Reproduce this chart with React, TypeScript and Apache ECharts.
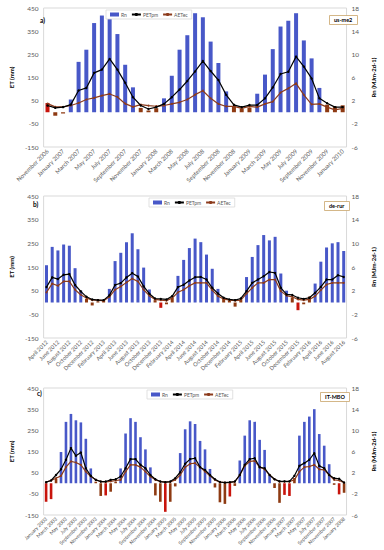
import React, { useEffect, useRef } from "react";
import * as echarts from "echarts";

const MONTH_NAMES = ["January","February","March","April","May","June","July","August","September","October","November","December"];
function monthLabels(startYear: number, startMonth: number, count: number): string[] {
  const out: string[] = [];
  for (let i = 0; i < count; i++) {
    const m = (startMonth + i) % 12;
    const y = startYear + Math.floor((startMonth + i) / 12);
    out.push(MONTH_NAMES[m] + " " + y);
  }
  return out;
}

// Panel a) us-me2 : November 2006 - January 2010
const catsA = monthLabels(2006, 10, 39);
const rnBlueA = [null,null,null,2.2,8.7,10.8,15.4,16.7,16.8,13.5,8.2,4.3,null,null,null,2.4,6.3,10.8,13.3,17.1,16.4,12.2,8.5,3.6,null,null,null,3.2,6.5,10.9,14.8,15.8,17.1,12.4,9.3,4.2,null,null,null];
const rnRedA = [1.6,null,null,null,null,null,null,null,null,null,null,null,null,null,null,null,null,null,null,null,null,null,null,null,null,null,null,null,null,null,null,null,null,null,null,null,null,null,null];
const rnBrownA = [null,-0.6,-0.2,null,null,null,null,null,null,null,null,null,0.75,0.3,0.7,null,null,null,null,null,null,null,null,null,1.0,0.6,0.8,null,null,null,null,null,null,null,null,null,1.3,1.0,1.2];
const petA = [29,19,22,33,94,105,170,184,230,184,127,65,29,14,22,36,65,98,135,176,221,178,139,75,32,22,31,31,60,107,165,175,240,197,146,60,39,22,22];
const aetA = [37,23,23,29,40,55,62,72,79,66,37,23,33,29,26,29,36,43,55,76,93,60,36,25,25,17,25,22,36,46,85,103,125,75,34,36,22,10,17];

// Panel b) de-rur : April 2012 - August 2016
const catsB = monthLabels(2012, 3, 53);
const rnBlueB = [6.3,9.4,8.8,9.8,9.6,5.8,2.0,null,null,null,null,2.3,7.0,8.4,10.2,11.7,9.0,5.9,2.2,null,null,null,null,4.5,7.2,9.2,10.8,10.2,8.1,5.7,2.3,null,null,null,null,4.3,7.7,9.7,11.4,10.5,11.1,4.9,2.0,null,null,null,null,3.2,6.9,9.3,10.0,10.2,8.7];
const rnRedB = [null,null,null,null,null,null,null,null,null,null,null,null,null,null,null,null,null,null,null,null,-0.9,null,null,null,null,null,null,null,null,null,null,null,null,null,null,null,null,null,null,null,null,null,null,null,-1.3,null,null,null,null,null,null,null,null];
const rnBrownB = [null,null,null,null,null,null,null,0.6,-0.5,0.2,0.3,null,null,null,null,null,null,null,null,0.4,null,-0.3,0.8,null,null,null,null,null,null,null,null,0.8,0.3,-0.7,0.5,null,null,null,null,null,null,null,null,0.8,null,-0.3,1.0,null,null,null,null,null,null];
const petB = [65,106,99,117,120,74,47,24,13,10,10,30,74,82,106,124,110,68,37,17,15,13,27,65,75,93,107,108,97,62,38,20,13,10,17,48,83,97,111,129,125,62,34,32,20,15,20,41,66,97,97,115,108];
const aetB = [43,80,71,89,89,54,33,19,10,10,7,24,54,68,85,101,89,54,29,13,10,8,19,43,54,71,83,83,83,52,27,15,10,8,10,38,62,83,83,97,97,48,29,24,13,10,13,27,52,76,83,83,83];

// Panel c) IT-MBO : January 2003 - January 2008
const catsC = monthLabels(2003, 0, 61);
const rnBlueC = [null,null,null,5.9,11.6,13.1,11.9,11.5,8.4,2.8,null,null,null,null,null,2.8,9.4,12.3,11.6,8.7,6.4,3.0,null,null,null,null,null,5.7,10.2,11.7,11.2,8.0,6.4,2.7,null,null,null,null,null,4.3,9.0,11.9,11.6,8.2,6.3,1.5,null,null,null,null,null,9.0,11.6,12.6,14.0,9.3,7.1,3.6,null,null,null];
const rnRedC = [-3.5,-3.0,null,null,null,null,null,null,null,null,null,null,-2.3,null,null,null,null,null,null,null,null,null,null,null,-5.4,null,null,null,null,null,null,null,null,null,null,null,null,-2.5,null,null,null,null,null,null,null,null,null,null,-2.2,-2.4,null,null,null,null,null,null,null,null,null,-2.1,null];
const rnBrownC = [null,null,0.8,null,null,null,null,null,null,null,0.3,-2.4,null,-1.6,0.3,null,null,null,null,null,null,null,-2.3,-3.5,null,-3.5,-0.6,null,null,null,null,null,null,null,-0.8,-3.6,-3.9,null,-0.5,null,null,null,null,null,null,null,-0.9,-3.7,null,null,1.0,null,null,null,null,null,null,null,-0.3,null,-1.8];
const petC = [5,13,39,66,111,166,130,145,71,35,16,8,8,16,19,32,71,114,114,87,71,39,19,8,5,8,24,52,92,114,118,76,63,39,19,6,3,5,8,39,87,114,118,76,71,39,19,9,9,9,35,82,95,111,142,82,71,39,24,21,3];
const aetC = [5,13,24,35,76,103,98,87,55,32,16,8,6,9,13,16,55,87,87,76,55,32,16,8,5,6,16,39,76,92,95,76,55,35,16,5,3,3,8,39,82,103,106,76,66,39,19,8,8,8,16,55,76,79,87,66,63,39,16,13,3];

const panelTags = ["a)", "b)", "c)"];
const siteNames = ["us-me2", "de-rur", "IT-MBO"];
const legendItems = ["Rn", "PETpm", "AETec"];

const FONT = "Lato, 'Open Sans', sans-serif";
const BLUE = "#4858c8";
const RED = "#c8140c";
const BROWN = "#8e3a12";
const AETC = "#8c3b1c";
const GREY = "#595959";

export default function App() {
  const ref = useRef<HTMLDivElement>(null);
  useEffect(() => {
    if (!ref.current) return;
    const chart = echarts.init(ref.current, undefined, { renderer: "svg" });

    const grids = [
      { left: 31, top: 8, width: 329, height: 139 },
      { left: 27, top: 196, width: 332, height: 142 },
      { left: 31, top: 388, width: 324, height: 127 },
    ];
    const cats = [catsA, catsB, catsC];
    const blues = [rnBlueA, rnBlueB, rnBlueC];
    const reds = [rnRedA, rnRedB, rnRedC];
    const browns = [rnBrownA, rnBrownB, rnBrownC];
    const pets = [petA, petB, petC];
    const aets = [aetA, aetB, aetC];
    const barW = [4, 3, 2.6];
    const xFont = [6, 5.6, 5];
    const legendPos = [
      { left: 106, top: 10 },
      { left: 149, top: 198 },
      { left: 147, top: 390 },
    ];
    const tagPos = [
      { x: 40, y: 17 },
      { x: 33, y: 201 },
      { x: 37, y: 390 },
    ];
    const sitePos = [
      { left: 329, top: 15 },
      { left: 324, top: 201 },
      { left: 320, top: 392 },
    ];

    const xAxis: any[] = [];
    const yAxis: any[] = [];
    const series: any[] = [];
    const legend: any[] = [];
    const title: any[] = [];
    const graphic: any[] = [];

    for (let p = 0; p < 3; p++) {
      xAxis.push({
        type: "category",
        gridIndex: p,
        data: cats[p],
        position: "bottom",
        axisLine: { show: false },
        axisTick: { show: false },
        axisLabel: { interval: 1, rotate: 45, fontSize: xFont[p], color: GREY, fontFamily: FONT, margin: 3 },
      });
      yAxis.push({
        type: "value",
        gridIndex: p,
        min: -150,
        max: 450,
        interval: 100,
        position: "left",
        name: "ET (mm)",
        nameLocation: "middle",
        nameRotate: 90,
        nameGap: 19,
        nameTextStyle: { fontSize: 6, fontWeight: "bold", color: "#000", fontFamily: FONT },
        axisLine: { show: false },
        axisTick: { show: false },
        splitLine: { show: false },
        axisLabel: { fontSize: 6.5, color: GREY, fontFamily: FONT, margin: 5 },
      });
      yAxis.push({
        type: "value",
        gridIndex: p,
        min: -6,
        max: 18,
        interval: 4,
        position: "right",
        name: "Rn (MJm-2d-1)",
        nameLocation: "middle",
        nameRotate: 90,
        nameGap: 16,
        nameTextStyle: { fontSize: 6, fontWeight: "bold", color: "#000", fontFamily: FONT },
        axisLine: { show: false },
        axisTick: { show: false },
        splitLine: { show: false },
        axisLabel: { fontSize: 6.5, color: GREY, fontFamily: FONT, margin: 5 },
      });
      const common = { xAxisIndex: p, yAxisIndex: 2 * p + 1, barWidth: barW[p], barGap: "-100%" };
      series.push({ ...common, type: "bar", name: "Rn", data: blues[p], itemStyle: { color: BLUE } });
      series.push({ ...common, type: "bar", name: "Rn winter red", data: reds[p], itemStyle: { color: RED } });
      series.push({ ...common, type: "bar", name: "Rn winter brown", data: browns[p], itemStyle: { color: BROWN } });
      series.push({
        type: "line", name: "PETpm", xAxisIndex: p, yAxisIndex: 2 * p, data: pets[p], z: 5,
        symbol: "circle", symbolSize: 2.4, showSymbol: true,
        lineStyle: { color: "#000", width: 1.2 }, itemStyle: { color: "#000" },
      });
      series.push({
        type: "line", name: "AETec", xAxisIndex: p, yAxisIndex: 2 * p, data: aets[p], z: 4,
        symbol: "circle", symbolSize: 2, showSymbol: true,
        lineStyle: { color: AETC, width: 1.2 }, itemStyle: { color: AETC },
      });
      legend.push({
        ...legendPos[p],
        orient: "horizontal",
        data: [
          { name: legendItems[0], icon: "rect" },
          { name: legendItems[1] },
          { name: legendItems[2] },
        ],
        itemWidth: 9,
        itemHeight: 4,
        itemGap: 4,
        padding: [2, 4],
        borderColor: "#d9d9d9",
        borderWidth: 0.8,
        backgroundColor: "#fff",
        selectedMode: false,
        textStyle: { fontSize: 5, color: GREY, fontFamily: FONT, padding: [0, 0, 0, -3] },
      });
      title.push({
        text: siteNames[p],
        ...sitePos[p],
        padding: [2, 5],
        borderColor: "#c9a46a",
        borderWidth: 0.8,
        backgroundColor: "#fff",
        textStyle: { fontSize: 5.5, fontWeight: "bold", color: "#000", fontFamily: FONT },
      });
      graphic.push({
        type: "text",
        left: tagPos[p].x,
        top: tagPos[p].y,
        style: { text: panelTags[p], fontSize: 6.5, fontWeight: "bold", fill: "#000", fontFamily: FONT },
      });
    }

    chart.setOption({
      animation: false,
      backgroundColor: "#fff",
      grid: grids.map((g) => ({ ...g, show: true, borderColor: "#d9d9d9", borderWidth: 1, containLabel: false })),
      xAxis,
      yAxis,
      series,
      legend,
      title,
      graphic,
    });
    return () => chart.dispose();
  }, []);
  return <div ref={ref} style={{ position: "fixed", left: 0, top: 0, width: 384, height: 550, background: "#fff" }} />;
}
